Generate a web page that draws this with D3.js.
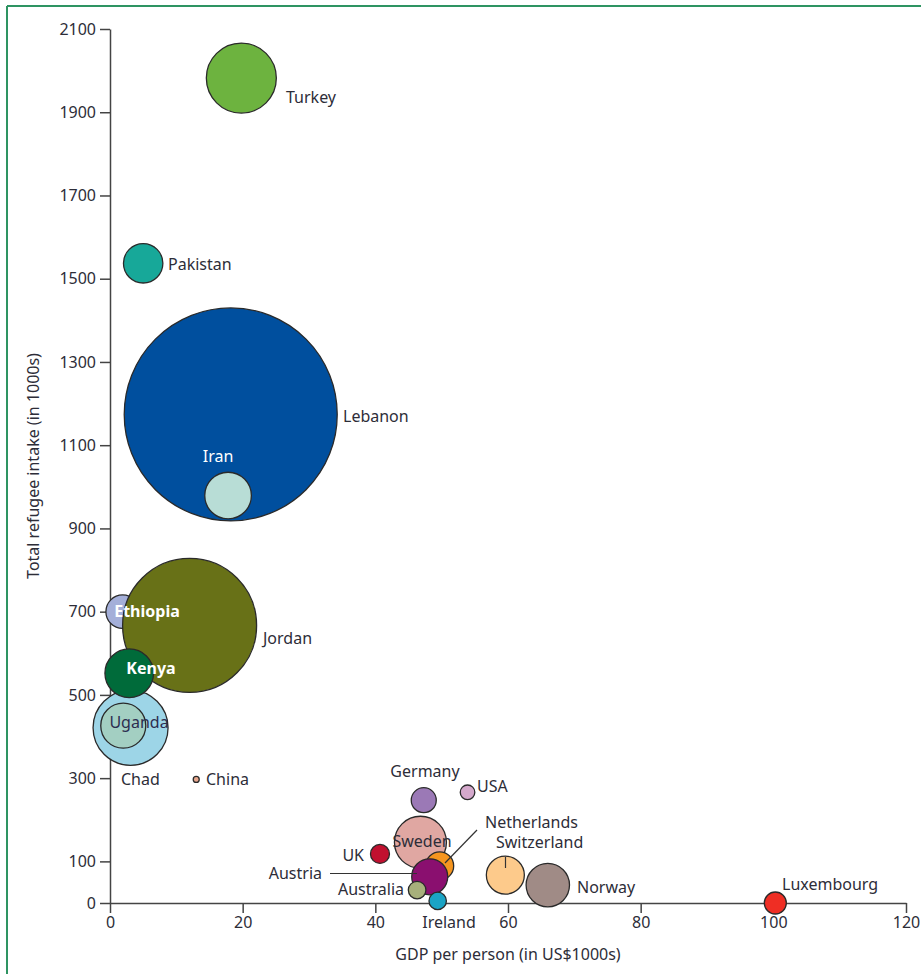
<!DOCTYPE html>
<html><head><meta charset="utf-8">
<script src="https://cdn.jsdelivr.net/npm/d3@7"></script>
<style>
body{margin:0;background:#fff;}
text{font-family:"Noto Sans",sans-serif;}
</style></head>
<body>
<svg id="c" width="921" height="974"></svg>
<script>
// Data (GDP per person in US$1000s, refugee intake in 1000s, bubble radius in px as drawn)
const countries = ["Lebanon","Iran","Turkey","Pakistan","Ethiopia","Jordan","Chad","Uganda","Kenya","China","Germany","USA","Sweden","UK","Netherlands","Switzerland","Norway","Austria","Australia","Ireland","Luxembourg"];
const gdp =       [18.2, 17.8, 19.8, 5.0, 1.9, 12.0, 3.1, 2.0, 2.9, 13.0, 47.3, 53.9, 46.8, 40.7, 49.7, 59.6, 66.0, 48.2, 46.3, 49.4, 100.3];
const intake =    [1174, 979, 1982, 1537, 700, 667, 421, 426, 552, 297, 247, 266, 146, 118, 89, 67, 43, 63, 31, 5, 0];
const sizes =     [106.5, 23.3, 35, 19.7, 16.7, 67, 37.5, 22.5, 24.3, 3, 12.5, 7.3, 26, 9.5, 14, 19, 21.7, 18, 8.8, 8.7, 11];
const colors = ["#004f9e","#b8ddd6","#6db33f","#17a899","#a4afd9","#687117","#9dd5e7","#a3cfc2","#006b3a","#e8a68c","#9b79b6","#d5a9cc","#e0a7a2","#c1102f","#f5951f","#fdca8b","#a08b86","#8a0f6f","#a7b07b","#1ba4c5","#ef2e24"];
const xTicks = [0,20,40,60,80,100,120];
const yTicks = [0,100,300,500,700,900,1100,1300,1500,1700,1900,2100];
// label layout: [country, x, y, anchor, colour, weight]
const labels = [
 ["Turkey",286,97,"start","#2d2d38",400],
 ["Pakistan",168,264,"start","#2d2d38",400],
 ["Lebanon",343,416,"start","#2d2d38",400],
 ["Iran",218,456,"middle","#fff",400],
 ["Ethiopia",147,611,"middle","#fff",700],
 ["Jordan",263,638,"start","#2d2d38",400],
 ["Kenya",151,668,"middle","#fff",700],
 ["Uganda",139,722,"middle","#2d2d50",400],
 ["Chad",121,779,"start","#2d2d38",400],
 ["China",206,779,"start","#2d2d38",400],
 ["Germany",425,771,"middle","#2d2d38",400],
 ["USA",477,786,"start","#2d2d38",400],
 ["Netherlands",485,822,"start","#2d2d38",400],
 ["Switzerland",496,842,"start","#2d2d38",400],
 ["Sweden",422,841,"middle","#2d2d38",400],
 ["UK",364,855,"end","#2d2d38",400],
 ["Austria",322,873,"end","#2d2d38",400],
 ["Australia",404,889,"end","#2d2d38",400],
 ["Ireland",449,922,"middle","#2d2d38",400],
 ["Norway",577,887,"start","#2d2d38",400],
 ["Luxembourg",782,884,"start","#2d2d38",400]
];

const svg = d3.select("#c");
// frame lines
svg.append("line").attr("x1",7).attr("y1",6).attr("x2",921).attr("y2",6).attr("stroke","#2e9462").attr("stroke-width",2);
svg.append("line").attr("x1",7).attr("y1",6).attr("x2",7).attr("y2",974).attr("stroke","#2e9462").attr("stroke-width",2);

const x = d3.scaleLinear().domain([0,120]).range([110,906]);
const y = d3.scaleLinear().domain([0,2100]).range([903,29]);

const textCol = "#2d2d38";
const fmt = d3.format("d");
const xa = svg.append("g").attr("transform","translate(0,903)")
  .call(d3.axisBottom(x).tickValues(xTicks).tickFormat(fmt).tickSize(10).tickPadding(4).tickSizeOuter(0));
const ya = svg.append("g").attr("transform","translate(110,0)")
  .call(d3.axisLeft(y).tickValues(yTicks).tickFormat(fmt).tickSize(10).tickPadding(4).tickSizeOuter(0));
[xa,ya].forEach(a=>{
  a.select(".domain").attr("stroke","#444").attr("stroke-width",1.5);
  a.selectAll(".tick line").attr("stroke","#444").attr("stroke-width",1.5);
  a.selectAll(".tick text").attr("fill",textCol).style("font-size","16px").style("font-family","'Noto Sans',sans-serif");
});

// axis titles
svg.append("text").attr("x",508).attr("y",960).attr("text-anchor","middle").attr("fill",textCol).style("font-size","16px").text("GDP per person (in US$1000s)");
svg.append("text").attr("transform","translate(39,466) rotate(-90)").attr("text-anchor","middle").attr("fill",textCol).style("font-size","16px").text("Total refugee intake (in 1000s)");

// bubbles
const data = countries.map((c,i)=>({c, g:gdp[i], v:intake[i], r:sizes[i], col:colors[i]}));
svg.append("g").selectAll("circle").data(data).join("circle")
  .attr("cx",d=>x(d.g)).attr("cy",d=>y(d.v)).attr("r",d=>d.r)
  .attr("fill",d=>d.col).attr("stroke","#2a2a2a").attr("stroke-width",1.3);

// leader lines
const leaders = [[445,863,477,830],[505.5,857,505.5,868],[330,873.5,417,873.5]];
svg.append("g").selectAll("line").data(leaders).join("line")
  .attr("x1",d=>d[0]).attr("y1",d=>d[1]).attr("x2",d=>d[2]).attr("y2",d=>d[3])
  .attr("stroke","#333").attr("stroke-width",1.2);

svg.append("g").selectAll("text").data(labels).join("text")
  .attr("x",d=>d[1]).attr("y",d=>d[2]).attr("dy","0.35em")
  .attr("text-anchor",d=>d[3]).attr("fill",d=>d[4]).attr("font-weight",d=>d[5])
  .style("font-size","16px").text(d=>d[0]);
</script>
</body></html>
